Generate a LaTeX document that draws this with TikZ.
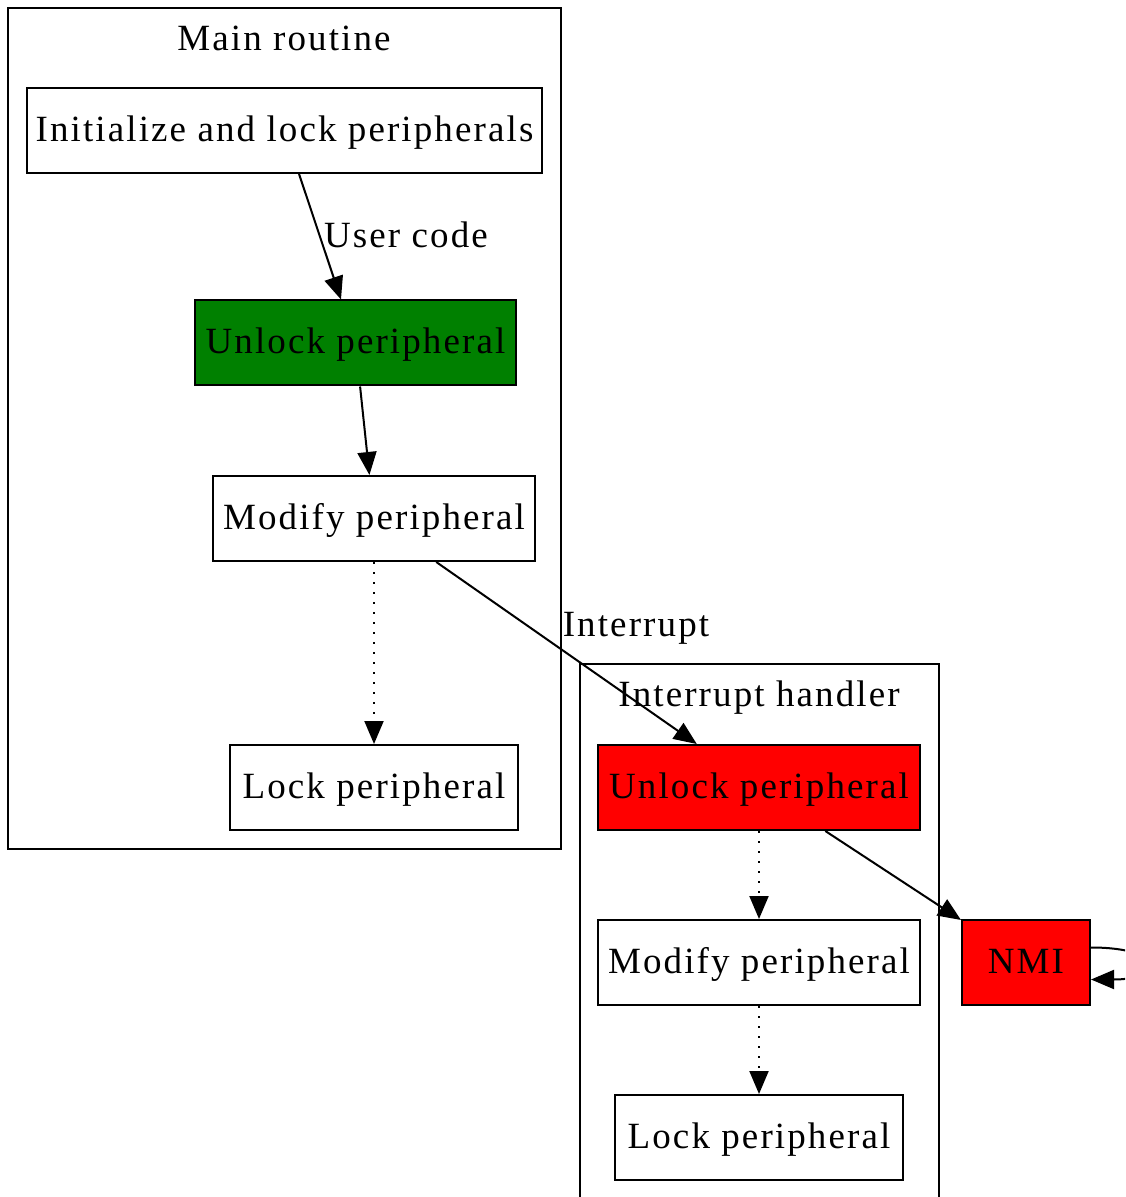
\documentclass[tikz,border=0pt]{standalone}
\usepackage{fontspec}
\setmainfont{Liberation Serif}[LetterSpace=5.7]
\usetikzlibrary{arrows.meta}

\definecolor{okgreen}{HTML}{008000}
\definecolor{alarmred}{HTML}{FF0000}

\tikzset{
  gvfont/.style={font=\fontsize{18.5}{22}\selectfont, text height=12.5pt, text depth=1.5pt},
  box/.style={draw, line width=1pt, inner sep=0pt, minimum height=42.5pt},
  cluster/.style={line width=1pt},
  flow/.style={line width=1pt, -{Triangle[length=11.5pt,width=9.5pt]}},
  weak/.style={flow, dash pattern=on 1pt off 4pt}
}

\begin{document}
\begin{tikzpicture}[x=0.5pt,y=-0.5pt,every node/.style={gvfont}]
\clip (0,0) rectangle (1125,1197);

% clusters
\draw[cluster] (8,8) rectangle (561,849);
\node (mainlbl) at (284,40) {Main routine};
\draw[cluster] (580,664) rectangle (939,1240);
\node (irqlbl) at (759,695) {Interrupt handler};

% main routine
\node[box, minimum width=257.5pt] (init) at (284.5,130.5) {Initialize and lock peripherals};
\node[box, minimum width=160.5pt, fill=okgreen] (unlockmain) at (355.5,343) {Unlock peripheral};
\node[box, minimum width=161pt] (modifymain) at (374,518.5) {Modify peripheral};
\node[box, minimum width=144pt] (lockmain) at (374,787.5) {Lock peripheral};

% interrupt handler
\node[box, minimum width=161pt, fill=alarmred] (unlockirq) at (759,787.5) {Unlock peripheral};
\node[box, minimum width=161pt] (modifyirq) at (759,962.5) {Modify peripheral};
\node[box, minimum width=144pt] (lockirq) at (759,1137.5) {Lock peripheral};
\node[box, minimum width=64pt, fill=alarmred] (nmi) at (1026,962.5) {NMI};

\draw[flow] (init) -- (unlockmain);
\node (usercode) at (406,237) {User code};
\draw[flow] (unlockmain) -- (modifymain);
\draw[weak] (modifymain) -- (lockmain);
\draw[flow] (modifymain) -- (unlockirq);
\node (interrupt) at (636,625) {Interrupt};
\draw[weak] (unlockirq) -- (modifyirq);
\draw[weak] (modifyirq) -- (lockirq);
\draw[flow] (unlockirq) -- (nmi);
\draw[flow] ([yshift=7.5pt]nmi.east) .. controls +(75,0) and +(75,0) .. ([yshift=-8.5pt]nmi.east);

\end{tikzpicture}
\end{document}
